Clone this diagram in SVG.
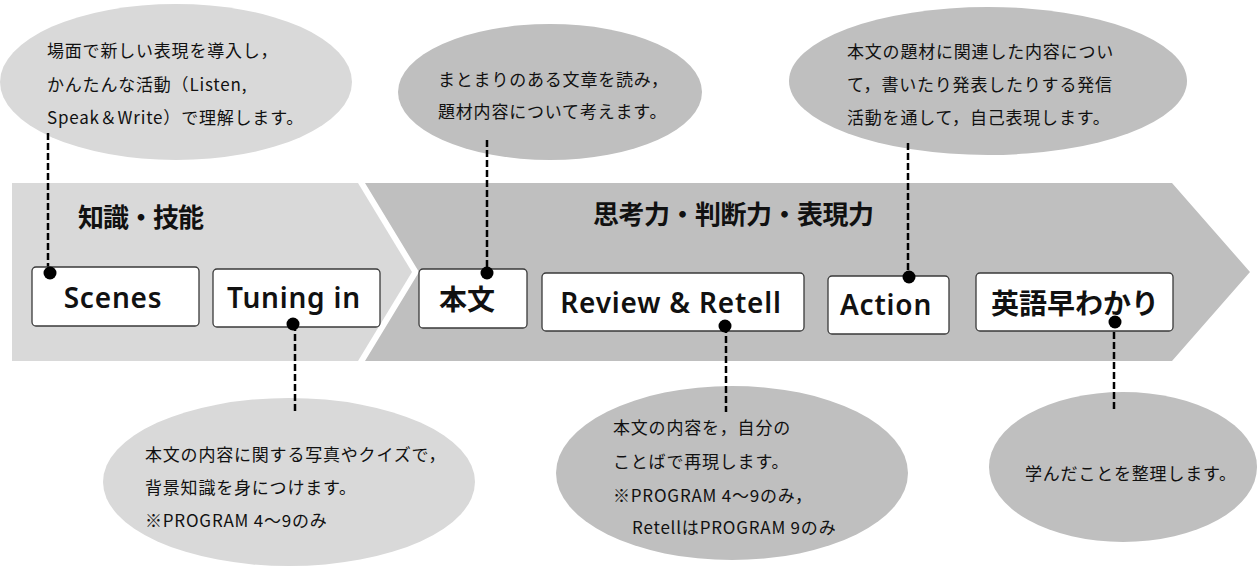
<svg xmlns="http://www.w3.org/2000/svg" width="1258" height="567" viewBox="0 0 1258 567">
<style>
.bg{fill:#ffffff}
.lt{fill:#d9d9d9}
.dk{fill:#bfbfbf}
.box{fill:#ffffff;stroke:#3a3a3a;stroke-width:1.3}
.lbl{font-family:"Noto Sans","Noto Sans CJK JP",sans-serif;font-weight:600;font-size:28px;letter-spacing:0.8px;fill:#111;text-anchor:middle}
.jlbl{font-family:"Noto Sans CJK JP",sans-serif;font-weight:700;font-size:28px;fill:#111;text-anchor:middle}
.ttl{font-family:"Noto Sans CJK JP",sans-serif;font-weight:700;font-size:26px;fill:#111}
.body{font-family:"Noto Sans CJK JP",sans-serif;font-size:17px;letter-spacing:0.8px;fill:#111}
.dash{stroke:#000;stroke-width:2.5;stroke-dasharray:7 3;fill:none}
.dot{fill:#000}
</style>
<rect class="bg" x="0" y="0" width="1258" height="567"/>
<g id="bands">
<polygon class="dk" points="365,183 1172,183 1250,272 1172,361 365,361 419,272"/>
<polygon class="lt" points="12,183 358,183 412,272 358,361 12,361"/>
<text class="ttl" x="78" y="227" letter-spacing="-1">知識・技能</text>
<text class="ttl" x="593" y="224" letter-spacing="-0.5">思考力・判断力・表現力</text>
</g>
<g id="bubble-scenes">
<ellipse class="lt" cx="176" cy="82" rx="176" ry="78"/>
<text class="body" x="47" y="57">場面で新しい表現を導入し，</text>
<text class="body" x="47" y="91">かんたんな活動（Listen,</text>
<text class="body" x="47" y="124">Speak＆Write）で理解します。</text>
</g>
<g id="bubble-honbun">
<ellipse class="dk" cx="550" cy="92" rx="152" ry="68"/>
<text class="body" x="438" y="86">まとまりのある文章を読み，</text>
<text class="body" x="438" y="118">題材内容について考えます。</text>
</g>
<g id="bubble-action">
<ellipse class="dk" cx="988" cy="81" rx="199" ry="74"/>
<text class="body" x="847" y="58">本文の題材に関連した内容につい</text>
<text class="body" x="847" y="91">て，書いたり発表したりする発信</text>
<text class="body" x="847" y="124">活動を通して，自己表現します。</text>
</g>
<g id="bubble-tuning">
<ellipse class="lt" cx="289" cy="482" rx="186" ry="84"/>
<text class="body" x="145" y="461">本文の内容に関する写真やクイズで，</text>
<text class="body" x="145" y="494">背景知識を身につけます。</text>
<text class="body" x="145" y="527">※PROGRAM 4～9のみ</text>
</g>
<g id="bubble-review">
<ellipse class="dk" cx="732" cy="473" rx="176" ry="87"/>
<text class="body" x="613" y="434">本文の内容を，自分の</text>
<text class="body" x="613" y="468">ことばで再現します。</text>
<text class="body" x="613" y="502">※PROGRAM 4～9のみ，</text>
<text class="body" x="632" y="534">RetellはPROGRAM 9のみ</text>
</g>
<g id="bubble-eigo">
<ellipse class="dk" cx="1123" cy="467" rx="134" ry="75"/>
<text class="body" x="1025" y="480">学んだことを整理します。</text>
</g>
<g id="connectors">
<line class="dash" x1="48" y1="133" x2="48" y2="272"/>
<line class="dash" x1="487" y1="140" x2="487" y2="272"/>
<line class="dash" x1="908" y1="143" x2="908" y2="276"/>
<line class="dash" x1="295" y1="324" x2="295" y2="412"/>
<line class="dash" x1="726" y1="326" x2="726" y2="412"/>
<line class="dash" x1="1114" y1="322" x2="1114" y2="409"/>
</g>
<g id="node-scenes">
<rect class="box" x="32" y="267" width="167" height="59" rx="4"/>
<text class="lbl" x="113" y="308">Scenes</text>
</g>
<g id="node-tuning">
<rect class="box" x="213" y="269" width="167" height="58" rx="4"/>
<text class="lbl" x="294" y="308">Tuning in</text>
</g>
<g id="node-honbun">
<rect class="box" x="419" y="269" width="108" height="59" rx="4"/>
<text class="jlbl" x="467" y="310">本文</text>
</g>
<g id="node-review">
<rect class="box" x="542" y="273" width="262" height="58" rx="4"/>
<text class="lbl" x="671" y="313">Review &amp; Retell</text>
</g>
<g id="node-action">
<rect class="box" x="828" y="276" width="121" height="58" rx="4"/>
<text class="lbl" x="886" y="315">Action</text>
</g>
<g id="node-eigo">
<rect class="box" x="976" y="273" width="197" height="58" rx="4"/>
<text class="jlbl" x="1075" y="314">英語早わかり</text>
</g>
<g id="dots">
<circle class="dot" cx="50" cy="273" r="6.5"/>
<circle class="dot" cx="293" cy="324" r="6.5"/>
<circle class="dot" cx="487" cy="273" r="6.5"/>
<circle class="dot" cx="725" cy="326" r="6.5"/>
<circle class="dot" cx="909" cy="277" r="6.5"/>
<circle class="dot" cx="1115" cy="322" r="6.5"/>
</g>
</svg>
